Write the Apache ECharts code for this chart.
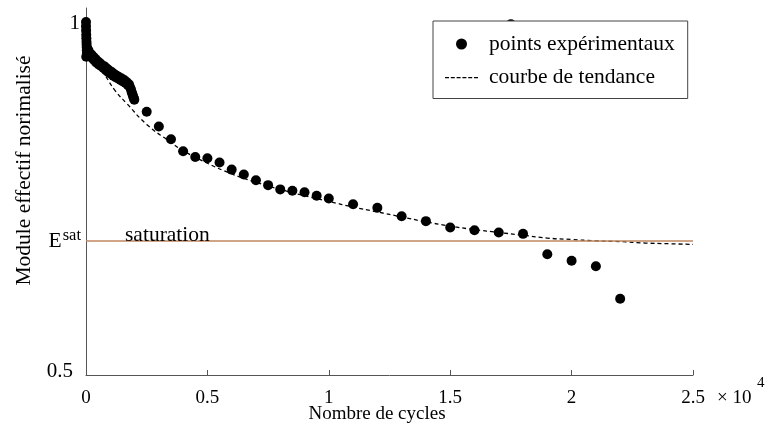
<!DOCTYPE html>
<html>
<head>
<meta charset="utf-8">
<script src="https://cdn.jsdelivr.net/npm/echarts@6/dist/echarts.min.js"></script>
<style>
  html, body { margin: 0; padding: 0; background: #fff; }
  #chart { width: 768px; height: 428px; }
</style>
</head>
<body>
<div id="chart"></div>
<script>
// Module effectif normalisé vs nombre de cycles

// points expérimentaux [cycles, module normalisé]
const pointsDebut = [
    [0, 1.000], [0, 0.994], [5, 0.988], [10, 0.982], [15, 0.977], [20, 0.972],
    [25, 0.968], [30, 0.964], [35, 0.960], [40, 0.957], [45, 0.954], [10, 0.951],
    [60, 0.962], [80, 0.958], [100, 0.960], [120, 0.955], [150, 0.956], [180, 0.952],
    [220, 0.954], [260, 0.949], [300, 0.951], [340, 0.946], [380, 0.948], [420, 0.943],
    [470, 0.945], [520, 0.940], [570, 0.942], [620, 0.938], [670, 0.939], [720, 0.935],
    [770, 0.937], [820, 0.932], [870, 0.934], [920, 0.929], [970, 0.931], [1020, 0.927],
    [1070, 0.929], [1120, 0.924], [1170, 0.926], [1220, 0.922], [1270, 0.924], [1320, 0.920],
    [1370, 0.922], [1420, 0.918], [1470, 0.920], [1520, 0.916], [1570, 0.918], [1620, 0.914],
    [1670, 0.915], [1720, 0.911], [1770, 0.912], [1810, 0.908], [1850, 0.905], [1880, 0.901],
    [1910, 0.898], [1940, 0.895], [1970, 0.892], [1990, 0.890]
];
const pointsSuite = [
    [2500, 0.873], [3000, 0.852], [3500, 0.834], [4000, 0.817], [4500, 0.809],
    [5000, 0.807], [5500, 0.801], [6000, 0.791], [6500, 0.784], [7000, 0.776],
    [7500, 0.769], [8000, 0.763], [8500, 0.761], [9000, 0.759], [9500, 0.754],
    [10000, 0.750], [11000, 0.742], [12000, 0.737], [13000, 0.725], [14000, 0.718],
    [15000, 0.709], [16000, 0.705], [17000, 0.702], [17500, 0.997], [18000, 0.700],
    [19000, 0.671], [20000, 0.662], [21000, 0.654], [22000, 0.608]
];

// courbe de tendance
const tendanceCycles = [0, 250, 500, 800, 1200, 1700, 2500, 3400, 4000, 5000, 6000, 7000, 8000,
    9000, 10000, 11000, 12000, 13000, 14000, 15000, 16000, 17000, 18000, 19000,
    20000, 21000, 22000, 23000, 24000, 25000];
const tendanceValeurs = [0.975, 0.955, 0.940, 0.924, 0.903, 0.884, 0.855, 0.832, 0.818, 0.800,
    0.785, 0.773, 0.763, 0.754, 0.746, 0.738, 0.731, 0.724, 0.717, 0.711,
    0.706, 0.702, 0.698, 0.694, 0.692, 0.690, 0.689, 0.687, 0.686, 0.685];

const ESAT = 0.685;
const yTicks = [0.5, ESAT, 1];
const xTicks = [0, 5000, 10000, 15000, 20000, 25000];

const police = '"Liberation Serif", "Times New Roman", serif';
const gris = '#555555';

// petit trait pointillé pour la légende de la courbe de tendance
const iconeTirets = 'path://M0,0h0.01v0.01h-0.01z M33,11h-0.01v-0.01h0.01z' +
    ' M0,4.9h4v1.3h-4z M5.8,4.9h4v1.3h-4z M11.6,4.9h4v1.3h-4z' +
    ' M17.4,4.9h4v1.3h-4z M23.2,4.9h4v1.3h-4z M29,4.9h4v1.3h-4z';

const chart = echarts.init(document.getElementById('chart'));

const option = {
    animation: false,
    textStyle: { fontFamily: police, color: '#000' },
    grid: { left: 86, right: 75, top: 8, bottom: 53, containLabel: false, outerBoundsMode: 'none' },
    legend: {
        orient: 'vertical',
        left: 433,
        top: 21,
        padding: [12, 13, 10, 12],
        itemGap: 11.5,
        itemWidth: 33,
        itemHeight: 11,
        backgroundColor: '#fff',
        borderColor: '#444',
        borderWidth: 1,
        borderRadius: 0,
        textStyle: { fontFamily: police, fontSize: 21.5, color: '#000', padding: [0, 0, 0, 6] },
        data: [
            { name: 'points expérimentaux', icon: 'circle' },
            { name: 'courbe de tendance', icon: iconeTirets }
        ]
    },
    xAxis: {
        type: 'value',
        min: 0,
        max: 25000,
        interval: 5000,
        name: 'Nombre de cycles',
        nameLocation: 'middle',
        nameGap: 30,
        nameMoveOverlap: false,
        nameTextStyle: { fontFamily: police, fontSize: 19, color: '#000', padding: [0, 25, 0, 0] },
        axisLine: { lineStyle: { color: gris, width: 1 } },
        axisTick: { show: true, inside: true, length: 5, lineStyle: { color: gris } },
        axisLabel: {
            fontFamily: police, fontSize: 19, color: '#000', margin: 14,
            formatter: v => xTicks.includes(v) ? String(v / 10000) : ''
        },
        splitLine: { show: false }
    },
    yAxis: {
        type: 'value',
        min: 0.5,
        max: 1.02,
        name: 'Module effectif norimalisé',
        nameLocation: 'middle',
        nameRotate: 90,
        nameGap: 51,
        nameMoveOverlap: false,
        nameTextStyle: { fontFamily: police, fontSize: 21.5, color: '#000', padding: [0, 0, 0, 42] },
        axisLine: { show: true, lineStyle: { color: gris, width: 1 } },
        axisTick: { show: false },
        splitLine: { show: false },
        axisLabel: {
            customValues: yTicks,
            fontFamily: police, fontSize: 21, color: '#000', margin: 5,
            padding: [0, 0, 7, 0],
            formatter: function (v) {
                if (Math.abs(v - ESAT) < 1e-6) return '{e|E}{s|sat}';
                if (v === 1) return '{un|1}';
                return '{d|' + v + '}';
            },
            rich: {
                e: { fontFamily: police, fontSize: 21.5, color: '#000' },
                s: { fontFamily: police, fontSize: 16.5, color: '#000', padding: [0, 0, 10, 1] },
                un: { fontFamily: police, fontSize: 21, color: '#000', padding: [10, 1, 0, 0] },
                d: { fontFamily: police, fontSize: 21, color: '#000', padding: [0, 8, 0, 0] }
            }
        }
    },
    series: [
        {
            name: 'points expérimentaux',
            type: 'scatter',
            symbol: 'circle',
            symbolSize: 10,
            itemStyle: { color: '#000', opacity: 1 },
            data: pointsDebut.concat(pointsSuite),
            z: 3
        },
        {
            name: 'courbe de tendance',
            type: 'line',
            smooth: true,
            symbol: 'none',
            lineStyle: { color: '#000', width: 1.3, type: [4, 3] },
            itemStyle: { color: '#000' },
            data: tendanceCycles.map((c, i) => [c, tendanceValeurs[i]]),
            z: 2
        },
        {
            name: 'saturation',
            type: 'line',
            data: [],
            markLine: {
                silent: true,
                symbol: 'none',
                lineStyle: { color: '#c0875f', width: 1.5, type: 'solid' },
                label: {
                    show: true,
                    position: 'insideStartTop',
                    formatter: 'saturation',
                    fontFamily: police,
                    fontSize: 21.5,
                    lineHeight: 7,
                    color: '#000',
                    distance: 2,
                    padding: [0, 0, 0, 37]
                },
                data: [{ yAxis: ESAT }]
            },
            z: 1
        }
    ],
    // facteur d'échelle de l'axe x
    graphic: [
        {
            type: 'text',
            x: 717,
            y: 398,
            style: { text: '× 10', font: '19px ' + police, fill: '#000', verticalAlign: 'middle' }
        },
        {
            type: 'text',
            x: 757,
            y: 383,
            style: { text: '4', font: '15px ' + police, fill: '#000', verticalAlign: 'middle' }
        }
    ]
};

chart.setOption(option);
</script>
</body>
</html>
